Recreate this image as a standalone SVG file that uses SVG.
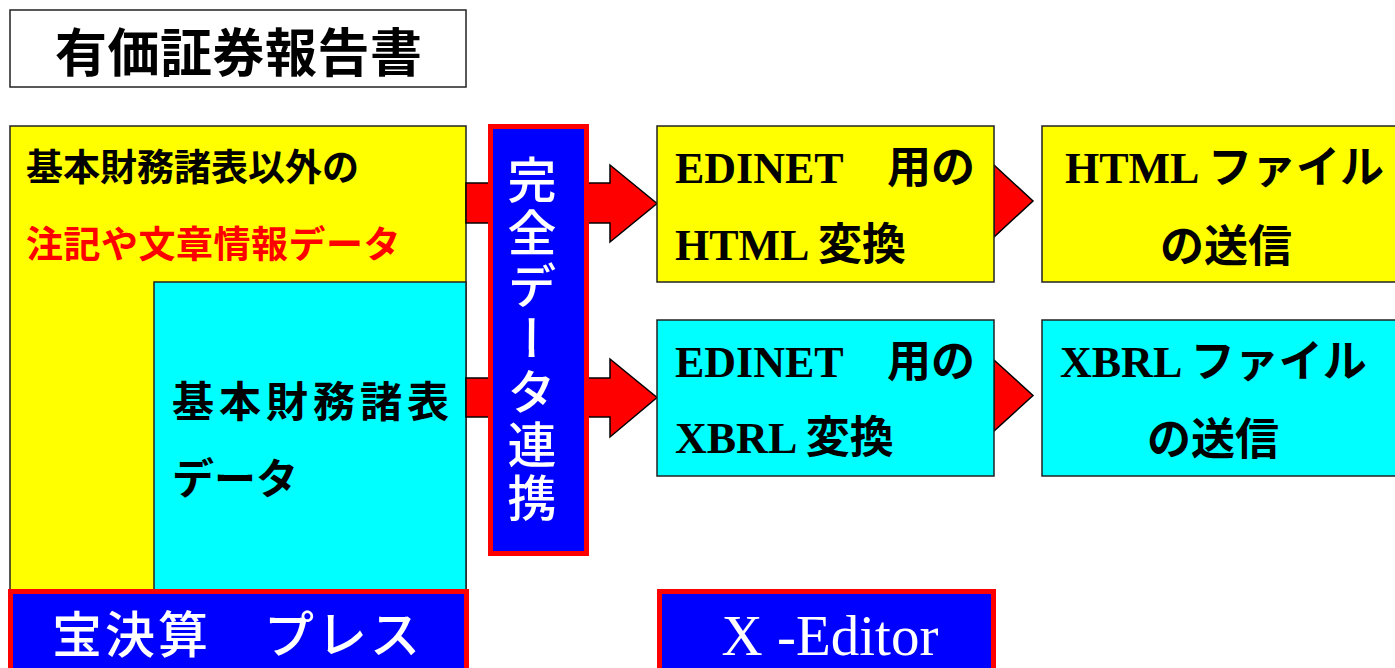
<svg xmlns="http://www.w3.org/2000/svg" width="1395" height="668" viewBox="0 0 1395 668">
<defs>
<style>
.box{stroke:#222;stroke-width:1.5}
.y{fill:#FFFF00}
.c{fill:#00FFFF}
.blue{fill:#0000FF;stroke:#FF0000;stroke-width:5}
.arr{fill:#FF0000;stroke:#000;stroke-width:1.5;stroke-linejoin:miter}
.jp{font-family:"Noto Sans CJK JP","Noto Sans CJK SC",sans-serif;font-weight:bold;fill:#000}
.mx{font-family:"Liberation Serif","Noto Sans CJK JP",serif;font-weight:bold;font-size:44px;fill:#000}
.w{fill:#fff}
</style>
</defs>
<rect width="1395" height="668" fill="#fff"/>
<g id="title">
<rect x="10" y="10" width="456" height="77" fill="#fff" class="box"/>
<text x="55" y="72" class="jp" font-size="52" letter-spacing="0.5">有価証券報告書</text>
</g>
<g id="outer-data">
<rect x="10" y="126" width="456" height="470" class="box y"/>
<text x="26" y="181" class="jp" font-size="37">基本財務諸表以外の</text>
<text x="26" y="258" class="jp" font-size="37" letter-spacing="0.5" style="fill:#FF0000">注記や文章情報データ</text>
</g>
<g id="basic-data">
<rect x="154" y="282" width="312" height="314" class="box c"/>
<text x="172" y="417" class="jp" font-size="42" letter-spacing="5">基本財務諸表</text>
<text x="172" y="494" class="jp" font-size="42">データ</text>
</g>
<g id="connectors">
<polygon class="arr" points="466,183 610,183 610,165 657,203.5 610,242 610,223 466,223"/>
<polygon class="arr" points="466,378 610,378 610,359 657,397.5 610,437 610,417 466,417"/>
<polygon class="arr" points="994,165 1033,201 994,237"/>
<polygon class="arr" points="994,360 1033,395.5 994,431"/>
</g>
<g id="link">
<rect x="490.5" y="126.5" width="96" height="427" class="blue"/>
<text x="532" y="155" class="jp w" font-size="49" letter-spacing="4" style="writing-mode:vertical-rl;font-weight:500">完全データ連携</text>
</g>
<g id="edinet-html">
<rect x="657" y="126" width="337" height="156" class="box y"/>
<text x="675" y="183" class="mx">EDINET　用の</text>
<text x="675" y="260" class="mx">HTML 変換</text>
</g>
<g id="edinet-xbrl">
<rect x="657" y="320" width="337" height="156" class="box c"/>
<text x="675" y="377" class="mx">EDINET　用の</text>
<text x="675" y="453" class="mx">XBRL 変換</text>
</g>
<g id="html-send">
<rect x="1042" y="126" width="360" height="156" class="box y"/>
<text x="1065" y="183" class="mx">HTML ファイル</text>
<text x="1160" y="262" class="mx">の送信</text>
</g>
<g id="xbrl-send">
<rect x="1042" y="320" width="360" height="156" class="box c"/>
<text x="1060" y="377" class="mx">XBRL ファイル</text>
<text x="1147" y="455" class="mx">の送信</text>
</g>
<g id="press">
<rect x="10.5" y="591.5" width="456" height="85" class="blue"/>
<text x="52" y="653" class="jp w" font-size="50" letter-spacing="3" style="font-weight:500">宝決算　プレス</text>
</g>
<g id="xeditor">
<rect x="659.5" y="591.5" width="334" height="85" class="blue"/>
<text x="830" y="655" text-anchor="middle" font-family="Liberation Serif, serif" font-size="57" fill="#fff">X -Editor</text>
</g>
</svg>
